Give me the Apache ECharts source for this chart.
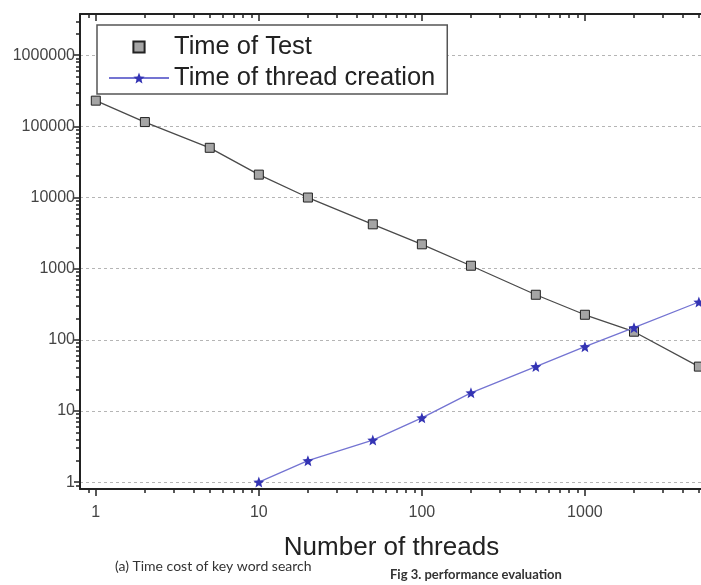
<!DOCTYPE html>
<html>
<head>
<meta charset="utf-8">
<script src="https://cdn.jsdelivr.net/npm/echarts@6/dist/echarts.min.js"></script>
<style>
  html, body { margin: 0; padding: 0; background: #fff; }
  #chart { width: 701px; height: 585px; }
</style>
</head>
<body>
<div id="chart"></div>
<script>
const threads = [1, 2, 5, 10, 20, 50, 100, 200, 500, 1000, 2000, 5000];
const testTime = [230000, 115000, 50000, 21000, 10000, 4200, 2200, 1100, 430, 225, 130, 42];
const creationThreads = [10, 20, 50, 100, 200, 500, 1000, 2000, 5000];
const creationTime = [1, 2, 3.9, 8, 18, 42, 80, 148, 340];
const seriesNames = ['Time of Test', 'Time of thread creation'];
const xName = 'Number of threads';
const captions = ['(a) Time cost of key word search', 'Fig 3. performance evaluation'];

const xMin = 0.8, xMax = 5300;
const yMin = 0.8, yMax = 3800000;

// minor ticks 2..9 of each decade, in log10 units (for the overlay axes)
function minorTicks(lo, hi) {
  const out = [];
  for (let e = Math.floor(Math.log10(lo)); e <= Math.ceil(Math.log10(hi)); e++) {
    for (let m = 2; m <= 9; m++) {
      const v = m * Math.pow(10, e);
      if (v > lo && v < hi) out.push(Math.log10(v));
    }
  }
  return out;
}

const starPath = 'path://M12,1 L14.9,8.6 L23,9.2 L16.8,14.4 L18.8,22.4 L12,18 L5.2,22.4 L7.2,14.4 L1,9.2 L9.1,8.6 Z';
const axisColor = '#222';
const labelStyle = { fontFamily: 'Liberation Sans', fontSize: 16, color: '#444' };

const chart = echarts.init(document.getElementById('chart'));

chart.setOption({
  animation: false,
  backgroundColor: '#fff',
  grid: { left: 80, top: 14, width: 623, height: 475, outerBoundsMode: 'none' },
  title: [
    {
      text: captions[0], left: 115, top: 559, padding: 0,
      textStyle: { fontFamily: 'Lato', fontSize: 14, fontWeight: 'normal', color: '#333' }
    },
    {
      text: captions[1], left: 390, top: 568, padding: 0,
      textStyle: { fontFamily: 'Lato', fontSize: 13, fontWeight: 'bold', color: '#333' }
    }
  ],
  legend: {
    orient: 'vertical',
    left: 97,
    top: 25,
    padding: [8, 12, 2, 11],
    itemGap: 3,
    itemWidth: 60,
    itemHeight: 14,
    backgroundColor: '#fff',
    borderColor: '#555',
    borderWidth: 1.5,
    textStyle: { fontFamily: 'Liberation Sans', fontSize: 25.5, color: '#222', lineHeight: 28 },
    data: [
      { name: seriesNames[0], lineStyle: { opacity: 0 } },
      { name: seriesNames[1] }
    ]
  },
  xAxis: [
    {
      type: 'log', position: 'bottom', min: xMin, max: xMax,
      name: xName, nameLocation: 'middle', nameGap: 46,
      nameTextStyle: { fontFamily: 'Liberation Sans', fontSize: 26, color: '#222' },
      axisLine: { onZero: false, lineStyle: { color: axisColor, width: 2 } },
      axisTick: { inside: false, length: 7, lineStyle: { color: axisColor, width: 1.5 } },
      axisLabel: {
        ...labelStyle, margin: 16, showMinLabel: false, showMaxLabel: false,
        formatter: v => String(Math.round(v))
      },
      splitLine: { show: false }
    },
    {
      type: 'value', position: 'bottom', min: Math.log10(xMin), max: Math.log10(xMax),
      axisLine: { show: false, onZero: false },
      axisTick: { inside: false, length: 4, customValues: minorTicks(xMin, xMax), lineStyle: { color: axisColor, width: 1.5 } },
      axisLabel: { show: false },
      splitLine: { show: false }
    },
    {
      type: 'log', position: 'top', min: xMin, max: xMax,
      axisLine: { onZero: false, lineStyle: { color: axisColor, width: 2 } },
      axisTick: { inside: true, length: 7, lineStyle: { color: axisColor, width: 1.5 } },
      axisLabel: { show: false },
      splitLine: { show: false }
    },
    {
      type: 'value', position: 'top', min: Math.log10(xMin), max: Math.log10(xMax),
      axisLine: { show: false, onZero: false },
      axisTick: { inside: true, length: 4, customValues: minorTicks(xMin, xMax), lineStyle: { color: axisColor, width: 1.5 } },
      axisLabel: { show: false },
      splitLine: { show: false }
    }
  ],
  yAxis: [
    {
      type: 'log', position: 'left', min: yMin, max: yMax,
      axisLine: { onZero: false, lineStyle: { color: axisColor, width: 2 } },
      axisTick: { inside: false, length: 6, lineStyle: { color: axisColor, width: 1.5 } },
      axisLabel: {
        ...labelStyle, margin: 5, showMinLabel: false, showMaxLabel: false,
        formatter: v => String(Math.round(v))
      },
      splitLine: { show: true, lineStyle: { color: '#b5b5b5', type: [3, 3], width: 1 } }
    },
    {
      type: 'value', position: 'left', min: Math.log10(yMin), max: Math.log10(yMax),
      axisLine: { show: false, onZero: false },
      axisTick: { inside: false, length: 4, customValues: minorTicks(yMin, yMax), lineStyle: { color: axisColor, width: 1.5 } },
      axisLabel: { show: false },
      splitLine: { show: false }
    }
  ],
  series: [
    {
      name: seriesNames[0],
      type: 'line',
      xAxisIndex: 0,
      yAxisIndex: 0,
      data: threads.map((x, i) => [x, testTime[i]]),
      symbol: 'rect',
      symbolSize: 9,
      lineStyle: { color: '#4a4a4a', width: 1.3 },
      itemStyle: { color: '#a5a5a5', borderColor: '#222', borderWidth: 1 },
      z: 3
    },
    {
      name: seriesNames[1],
      type: 'line',
      xAxisIndex: 0,
      yAxisIndex: 0,
      data: creationThreads.map((x, i) => [x, creationTime[i]]),
      symbol: starPath,
      symbolSize: 11,
      lineStyle: { color: '#7474d2', width: 1.3 },
      itemStyle: { color: '#3434b4' },
      z: 4
    }
  ]
});
</script>
</body>
</html>
